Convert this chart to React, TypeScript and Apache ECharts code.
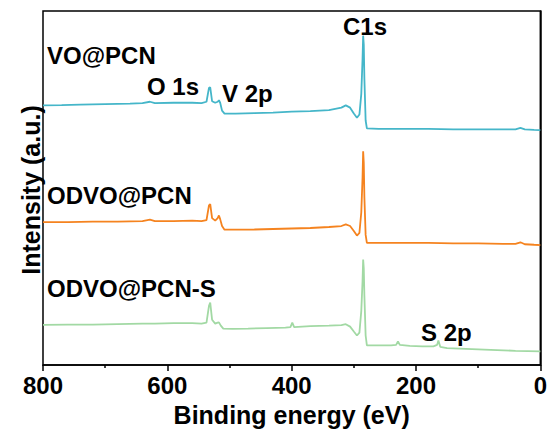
import React, { useEffect, useRef } from "react";
import * as echarts from "echarts";

// Binding energy (eV) sample points and intensities (a.u., offset-stacked)
const voEnergy = [800, 770, 740, 700, 660, 640, 628, 620, 590, 560, 545, 537, 533, 531, 528, 523, 519, 517, 515, 512, 508, 490, 460, 430, 400, 370, 340, 320, 313, 306, 300, 295, 291, 288, 286, 285, 284, 283, 281, 279, 260, 220, 180, 140, 100, 60, 40, 32, 25, 10, 0];
const voIntensity = [263.3, 263.5, 264, 264.5, 265, 265.5, 267, 265.5, 266, 266, 265.5, 267, 281, 281.5, 267.5, 266, 267, 268.5, 266, 258, 255, 255, 255.5, 256, 257, 257.5, 258.5, 261, 263.3, 261, 255, 250.7, 254, 275, 310, 334, 325, 290, 248, 240, 239.5, 239.5, 239.5, 239, 239, 239, 239, 240.5, 239, 238.5, 238.3];

const odvoEnergy = [800, 760, 720, 680, 640, 628, 620, 590, 560, 545, 537, 533, 531, 528, 523, 519, 517, 515, 512, 508, 490, 460, 430, 400, 370, 340, 320, 313, 306, 300, 295, 291, 288, 286, 285, 284, 283, 281, 279, 260, 220, 180, 140, 100, 60, 40, 32, 25, 10, 0];
const odvoIntensity = [145, 145, 145.5, 145.5, 146, 147.5, 146, 146, 146.5, 146, 147, 162, 163.3, 149, 146.5, 149, 151.7, 148, 141, 137.3, 137.3, 137.5, 138, 138.5, 139, 140, 141, 142.7, 141, 136, 131.3, 134, 155, 190, 216.7, 205, 170, 132, 124, 124, 124, 124, 123.5, 123.5, 123, 123, 124.5, 122.5, 122, 121.7];

const odvoSEnergy = [800, 760, 720, 680, 640, 620, 590, 560, 545, 537, 533, 531, 528, 523, 519, 517, 514, 510, 495, 470, 440, 410, 402, 399, 396, 370, 340, 320, 313, 306, 300, 295, 291, 288, 286, 285, 284, 283, 281, 279, 260, 240, 232, 229, 226, 210, 190, 172, 166, 164, 161, 150, 120, 80, 40, 0];
const odvoSIntensity = [40.7, 41, 41, 41.5, 42, 42, 42.5, 42.5, 42, 43, 60, 63.3, 46, 42, 43, 43.3, 40, 37, 36.7, 37, 37.5, 38, 38.5, 43, 38.5, 39.5, 40, 40.5, 41.5, 39, 34, 30, 33, 55, 85, 107, 98, 70, 30, 20, 20, 20, 20.5, 24, 20.5, 19.5, 19, 19, 20.5, 25, 18.5, 17.3, 16.5, 15.5, 14.5, 14];

const seriesNames = ["VO@PCN", "ODVO@PCN", "ODVO@PCN-S"];
const xTicks = [0, 200, 400, 600, 800];
const peakLabels = ["O 1s", "V 2p", "C1s", "S 2p"];
const axisTitles = ["Binding energy (eV)", "Intensity (a.u.)"];

const pairs = (xs: number[], ys: number[]) => xs.map((x, i) => [x, ys[i]]);

const FONT = "Liberation Sans, Arial, sans-serif";

export default function App() {
  const ref = useRef<HTMLDivElement>(null);
  useEffect(() => {
    document.body.style.margin = "0";
    if (!ref.current) return;
    const chart = echarts.init(ref.current, null, { renderer: "svg" });
    const colors = ["#45b6c9", "#f5831f", "#a2d9a4"];
    const data = [
      pairs(voEnergy, voIntensity),
      pairs(odvoEnergy, odvoIntensity),
      pairs(odvoSEnergy, odvoSIntensity),
    ];
    const txt = (text: string, x: number, y: number, size = 24) => ({
      type: "text",
      x,
      y,
      style: {
        text,
        fill: "#000",
        font: `bold ${size}px ${FONT}`,
        align: "left",
        verticalAlign: "middle",
      },
    });
    chart.setOption({
      animation: false,
      backgroundColor: "#ffffff",
      grid: {
        left: 43,
        right: 8,
        top: 11,
        bottom: 62,
        show: true,
        borderColor: "#000",
        borderWidth: 1.5,
        backgroundColor: "transparent",
      },
      xAxis: {
        type: "value",
        min: xTicks[0],
        max: xTicks[xTicks.length - 1],
        interval: 200,
        inverse: true,
        name: axisTitles[0],
        nameLocation: "middle",
        nameGap: 30,
        nameTextStyle: { fontFamily: FONT, fontWeight: "bold", fontSize: 25, color: "#000" },
        axisLine: { show: true, lineStyle: { color: "#000", width: 1.5 } },
        axisTick: { show: true, inside: false, length: 6, lineStyle: { color: "#000", width: 1.5 } },
        minorTick: { show: true, splitNumber: 2, length: 3, lineStyle: { color: "#000", width: 1.5 } },
        axisLabel: { fontFamily: FONT, fontWeight: "bold", fontSize: 24, color: "#000", margin: 8 },
        splitLine: { show: false },
      },
      yAxis: {
        type: "value",
        min: 0,
        max: 359,
        axisLine: { show: true, lineStyle: { color: "#000", width: 1.5 } },
        axisTick: { show: false },
        axisLabel: { show: false },
        splitLine: { show: false },
      },
      series: data.map((d, i) => ({
        type: "line",
        name: seriesNames[i],
        data: d,
        showSymbol: false,
        smooth: false,
        lineStyle: { color: colors[i], width: 1.8 },
        itemStyle: { color: colors[i] },
      })),
      graphic: [
        txt(seriesNames[0], 47, 55),
        txt(peakLabels[0], 147, 86),
        txt(peakLabels[1], 222, 93),
        txt(peakLabels[2], 343, 26),
        txt(seriesNames[1], 47, 195),
        txt(seriesNames[2], 47, 288),
        txt(peakLabels[3], 421, 332),
        {
          type: "text",
          x: 31,
          y: 190,
          rotation: Math.PI / 2,
          style: {
            text: axisTitles[1],
            fill: "#000",
            font: `bold 25px ${FONT}`,
            align: "center",
            verticalAlign: "middle",
          },
        },
      ],
    });
    return () => chart.dispose();
  }, []);
  return <div ref={ref} style={{ width: 550, height: 432 }} />;
}
